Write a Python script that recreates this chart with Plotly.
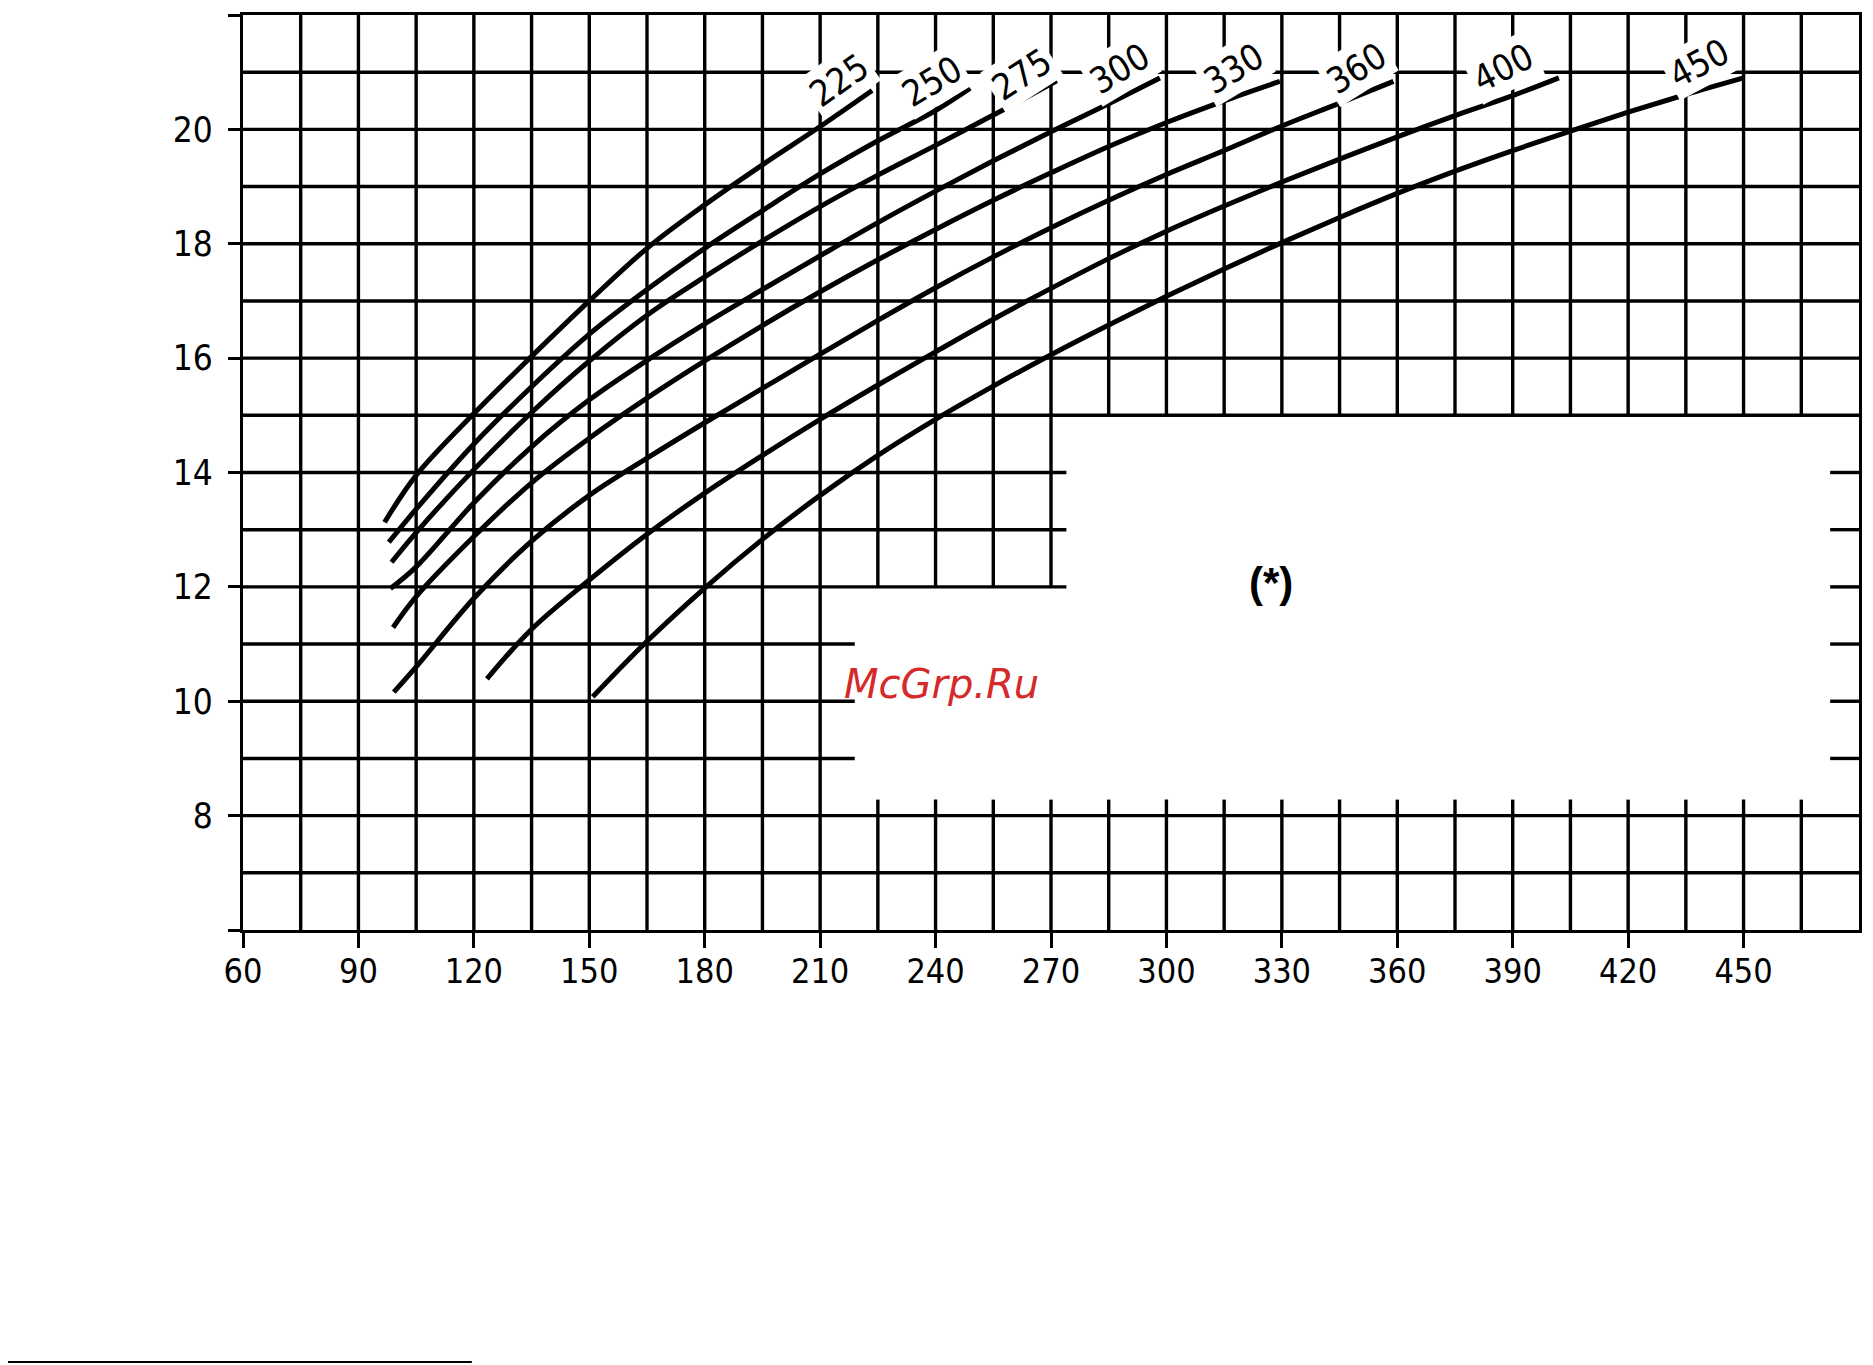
import plotly.graph_objects as go

# ---------------- data ----------------
curve_names = ["225", "250", "275", "300", "330", "360", "400", "450"]

x_225 = [96.8, 105, 120, 135, 150, 165, 180, 195, 210, 223.5]
y_225 = [13.13, 13.95, 15.03, 16.03, 17.0, 17.92, 18.68, 19.38, 20.05, 20.68]

x_250 = [97.9, 105, 120, 135, 150, 165, 180, 195, 210, 225, 240, 249]
y_250 = [12.78, 13.36, 14.5, 15.5, 16.42, 17.2, 17.92, 18.58, 19.22, 19.8, 20.33, 20.72]

x_275 = [98.6, 105, 120, 135, 150, 165, 180, 195, 210, 225, 240, 255, 271.5]
y_275 = [12.43, 12.95, 14.05, 15.05, 15.95, 16.75, 17.42, 18.05, 18.65, 19.2, 19.72, 20.25, 20.85]

x_300 = [98.3, 105, 120, 135, 150, 165, 180, 195, 210, 225, 240, 255, 270, 285, 298.3]
y_300 = [11.97, 12.35, 13.47, 14.45, 15.27, 15.96, 16.6, 17.2, 17.79, 18.37, 18.92, 19.45, 19.96, 20.45, 20.9]

x_330 = [99.0, 105, 120, 135, 150, 165, 180, 195, 210, 225, 240, 255, 270, 285, 300, 315, 329.5]
y_330 = [11.29, 11.83, 12.88, 13.82, 14.6, 15.3, 15.95, 16.57, 17.16, 17.72, 18.25, 18.76, 19.24, 19.7, 20.12, 20.5, 20.84]

x_360 = [99.2, 105, 120, 135, 150, 165, 180, 195, 210, 225, 240, 255, 270, 285, 300, 315, 330, 345, 359]
y_360 = [10.16, 10.6, 11.8, 12.8, 13.6, 14.25, 14.87, 15.47, 16.07, 16.66, 17.23, 17.77, 18.28, 18.76, 19.21, 19.63, 20.06, 20.46, 20.84]

x_400 = [123.4, 135, 150, 165, 180, 195, 210, 225, 240, 255, 270, 285, 300, 315, 330, 345, 360, 375, 390, 402]
y_400 = [10.39, 11.26, 12.12, 12.92, 13.64, 14.3, 14.93, 15.53, 16.11, 16.68, 17.22, 17.74, 18.22, 18.66, 19.08, 19.48, 19.87, 20.24, 20.59, 20.9]

x_450 = [150.9, 165, 180, 195, 210, 225, 240, 255, 270, 285, 300, 315, 330, 345, 360, 375, 390, 405, 420, 435, 450]
y_450 = [10.08, 11.05, 11.98, 12.83, 13.6, 14.3, 14.93, 15.51, 16.06, 16.58, 17.08, 17.56, 18.02, 18.46, 18.88, 19.27, 19.63, 19.97, 20.3, 20.61, 20.9]

curves_x = [x_225, x_250, x_275, x_300, x_330, x_360, x_400, x_450]
curves_y = [y_225, y_250, y_275, y_300, y_330, y_360, y_400, y_450]

# curve label anchor points (x, y) and angles
label_x = [214.8, 239.0, 262.4, 287.9, 317.6, 349.4, 387.6, 438.3]
label_y = [20.86, 20.84, 20.96, 21.06, 21.06, 21.06, 21.09, 21.16]
label_angle = [-35, -31, -33, -31, -31, -32, -27, -28]

# axis ticks
x_tick_vals = [60, 90, 120, 150, 180, 210, 240, 270, 300, 330, 360, 390, 420, 450]
x_tick_text = ["60", "90", "120", "150", "180", "210", "240", "270", "300", "330", "360", "390", "420", "450"]
y_tick_vals = [6, 8, 10, 12, 14, 16, 18, 20, 22]
y_tick_text = ["", "8", "10", "12", "14", "16", "18", "20", ""]

X_MIN, X_MAX = 60, 480
Y_MIN, Y_MAX = 6, 22

# ---------------- grid layout (with the blank "(*)" area) ----------------
v_full = [75, 90, 105, 120, 135, 150, 165, 180, 195, 210]
v_mid = [225, 240, 255, 270]
v_right = [285, 300, 315, 330, 345, 360, 375, 390, 405, 420, 435, 450, 465]
h_full = [7, 8, 15, 16, 17, 18, 19, 20, 21]
h_short = [9, 10, 11]
h_mid = [12, 13, 14]

gx, gy = [], []
def seg(x0, y0, x1, y1):
    gx.extend([x0, x1, None])
    gy.extend([y0, y1, None])

for v in v_full:
    seg(v, Y_MIN, v, Y_MAX)
for v in v_mid:
    seg(v, 12, v, Y_MAX)
    seg(v, Y_MIN, v, 8.28)
for v in v_right:
    seg(v, 15, v, Y_MAX)
    seg(v, Y_MIN, v, 8.28)
for h in h_full:
    seg(X_MIN, h, X_MAX, h)
for h in h_short:
    seg(X_MIN, h, 219, h)
    seg(472.5, h, X_MAX, h)
for h in h_mid:
    seg(X_MIN, h, 274, h)
    seg(472.5, h, X_MAX, h)

FONT = "DejaVu Sans Condensed, Liberation Sans Narrow, DejaVu Sans, sans-serif"

fig = go.Figure()
fig.add_trace(go.Scatter(x=gx, y=gy, mode="lines",
                         line=dict(color="black", width=3.4),
                         hoverinfo="skip", showlegend=False))

for name, cx, cy in zip(curve_names, curves_x, curves_y):
    fig.add_trace(go.Scatter(x=cx, y=cy, mode="lines", name=name,
                             line=dict(color="black", width=5, shape="spline", smoothing=1.0),
                             showlegend=False))

annotations = []
for name, lx, ly, ang in zip(curve_names, label_x, label_y, label_angle):
    annotations.append(dict(x=lx, y=ly, xref="x", yref="y", text=name, showarrow=False,
                            textangle=ang, font=dict(family=FONT, size=36, color="black"),
                            bgcolor="white", borderpad=3))

annotations.append(dict(x=327.2, y=12.07, xref="x", yref="y", text="<b>(*)</b>", showarrow=False,
                        font=dict(family="Liberation Sans, Arial, sans-serif", size=42, color="black")))
annotations.append(dict(x=241.6, y=10.3, xref="x", yref="y", text="McGrp.Ru", showarrow=False,
                        font=dict(family="DejaVu Sans, sans-serif", size=40, color="#d42a2a", style="italic")))

# the page body has an 8 px default margin: the figure is sized/offset to compensate
fig.update_layout(
    width=1865, height=1357,
    margin=dict(l=235, r=14, t=7, b=435, pad=0),
    plot_bgcolor="white", paper_bgcolor="white",
    showlegend=False,
    annotations=annotations,
    shapes=[dict(type="line", xref="paper", yref="paper",
                 x0=-0.1504, x1=0.1416, y0=-0.472, y1=-0.472,
                 line=dict(color="black", width=2))],
    xaxis=dict(range=[X_MIN, X_MAX], tickvals=x_tick_vals, ticktext=x_tick_text,
               ticks="outside", ticklen=15, tickwidth=3, tickcolor="black",
               showgrid=False, zeroline=False, showline=True, linecolor="black",
               linewidth=3.4, mirror=True, ticklabelstandoff=-6, automargin=False,
               tickfont=dict(family=FONT, size=34, color="black")),
    yaxis=dict(range=[Y_MIN, Y_MAX], tickvals=y_tick_vals, ticktext=y_tick_text,
               ticks="outside", ticklen=12, tickwidth=3, tickcolor="black",
               showgrid=False, zeroline=False, showline=True, linecolor="black",
               linewidth=3.4, mirror=True, ticklabelstandoff=8, automargin=False,
               tickfont=dict(family=FONT, size=35, color="black")),
)

fig.write_html("out.html")
